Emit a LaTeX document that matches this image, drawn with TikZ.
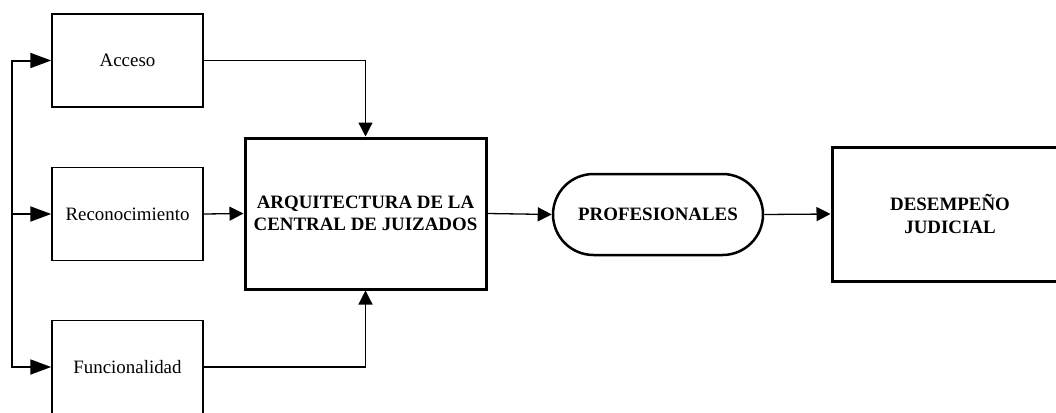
\documentclass[tikz,border=0pt]{standalone}
\usepackage{fontspec}
\setmainfont{Liberation Serif}
\usetikzlibrary{arrows.meta,shapes.misc}
\begin{document}
\begin{tikzpicture}[x=1pt,y=-1pt,
  every node/.style={font=\fontsize{18.9}{22.5}\selectfont, align=center, inner sep=0pt},
  smallbox/.style={draw, rectangle, line width=1.5pt, minimum width=151pt, minimum height=93pt},
  bigbox/.style={draw, rectangle, line width=3pt},
  pill/.style={draw, rounded rectangle, line width=2.5pt, minimum width=210pt, minimum height=81pt},
  bigtip/.style={-{Triangle[length=21pt,width=15pt]}},
  smalltip/.style={-{Triangle[length=14pt,width=14pt]}},
  loopline/.style={line width=2pt},
  thinline/.style={line width=1.3pt}]
\clip (0,0) rectangle (1056,412);
\fill[white] (0,0) rectangle (1056,412);
\node[smallbox] (acc) at (127.5,60.5) {Acceso};
\node[smallbox] (rec) at (127.5,214) {Reconocimiento};
\node[smallbox] (fun) at (127.5,367) {Funcionalidad};
\node[bigbox, minimum width=241pt, minimum height=151pt] (arq) at (365.5,213.5)
  {\bfseries ARQUITECTURA DE LA\\\bfseries CENTRAL DE JUIZADOS};
\node[pill] (pro) at (658,214.5) {\bfseries PROFESIONALES};
\node[bigbox, minimum width=236pt, minimum height=134pt] (des) at (950,214)
  {\bfseries DESEMPEÑO\\\bfseries JUDICIAL};
\coordinate (lt) at (12,60.5);
\coordinate (lb) at (12,367);
\draw[loopline, line cap=rect] (lt) -- (lb);
\draw[loopline, bigtip] (lt) -- (acc.west);
\draw[loopline, bigtip] (rec.west -| lt) -- (rec.west);
\draw[loopline, bigtip] (lb) -- (fun.west);
\draw[thinline, smalltip] (acc.east) -| (arq.north);
\draw[thinline, smalltip] (fun.east) -| (arq.south);
\draw[thinline, smalltip] (rec.east) -- (arq.west);
\draw[thinline, smalltip] (arq.east) -- (pro.west);
\draw[thinline, smalltip] (pro.east) -- (des.west);
\end{tikzpicture}
\end{document}
